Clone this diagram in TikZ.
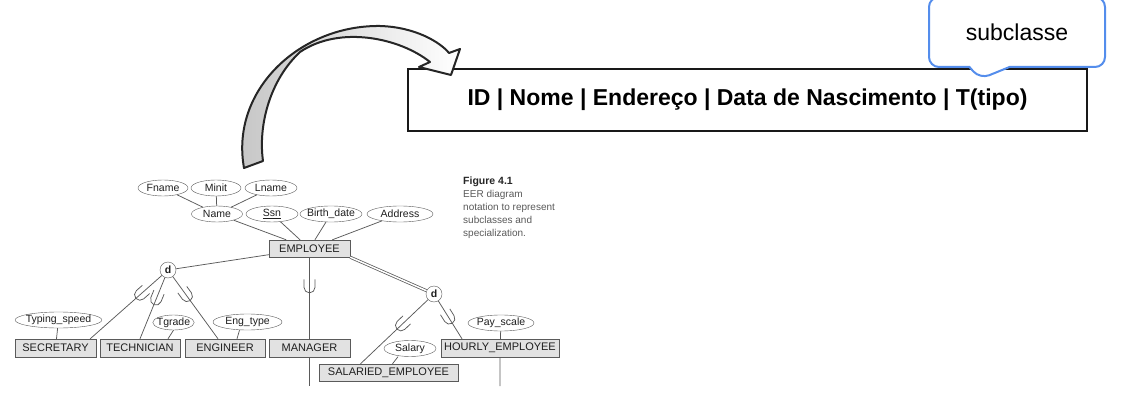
\documentclass[tikz,border=0pt]{standalone}
\usepackage{fontspec}
\setmainfont{Liberation Sans}
\usetikzlibrary{shapes.geometric,shapes.callouts,calc}
\definecolor{calloutblue}{RGB}{84,141,236}
\definecolor{erline}{RGB}{90,90,90}
\definecolor{erfill}{RGB}{226,226,226}
\definecolor{arrowgray}{RGB}{196,196,196}
\newcommand{\cupmark}[3]{%
  \draw[link] let \p1=($(#1)-(#2)$), \n1={atan2(\y1,\x1)} in
    ($(#1)!#3!(#2)$) ++(\n1+90:5.5pt) ++(\n1:8pt) -- ++(\n1+180:8pt)
    arc[start angle=\n1+90, end angle=\n1+270, radius=5.5pt] -- ++(\n1:8pt);}
\begin{document}
\begin{tikzpicture}[x=1pt,y=1pt,
  ent/.style={draw=erline,fill=erfill,minimum height=17,inner sep=1,font=\fontsize{11}{13}\selectfont,text=black!88},
  attr/.style={ellipse,draw=erline,fill=white,minimum height=16,inner xsep=-2,inner ysep=0,font=\fontsize{10.5}{12}\selectfont,text=black!88},
  dnode/.style={circle,draw=erline,fill=white,minimum size=16,inner sep=0,font=\bfseries\fontsize{10.5}{12}\selectfont,text=black!88},
  link/.style={draw=erline,line width=0.75pt}]
\useasboundingbox (0,-401) rectangle (1124,0);
\node[attr,minimum width=50] (fname) at (163,-188) {Fname};
\node[attr,minimum width=50] (minit) at (216,-188) {Minit};
\node[attr,minimum width=52] (lname) at (271,-188) {Lname};
\node[attr,minimum width=51] (name) at (217,-214) {Name};
\node[attr,minimum width=52] (ssn) at (272,-214) {\underline{Ssn}};
\node[attr,minimum width=62] (bdate) at (331,-214) {Birth\_date};
\node[attr,minimum width=66] (address) at (400,-214) {Address};
\node[ent,minimum width=81] (employee) at (309.5,-248.5) {EMPLOYEE};
\node[dnode] (d1) at (168,-270) {d};
\node[dnode] (d2) at (434,-294) {d};
\node[ent,minimum width=81,minimum height=18] (secretary) at (55.5,-348) {SECRETARY};
\node[ent,minimum width=80,minimum height=18] (technician) at (140,-348) {TECHNICIAN};
\node[ent,minimum width=80,minimum height=18] (engineer) at (225,-348) {ENGINEER};
\node[ent,minimum width=81,minimum height=18] (manager) at (309.5,-348) {MANAGER};
\node[ent,minimum width=118,minimum height=18] (hourly) at (500,-348) {HOURLY\_EMPLOYEE};
\node[ent,minimum width=139] (salaried) at (388.5,-372.5) {SALARIED\_EMPLOYEE};
\node[attr,minimum width=83] (typing) at (58.5,-320) {Typing\_speed};
\node[attr,minimum width=41,minimum height=15] (tgrade) at (173.5,-322.5) {Tgrade};
\node[attr,minimum width=69] (engtype) at (247.5,-322) {Eng\_type};
\node[attr,minimum width=52] (salary) at (410,-348.5) {Salary};
\node[attr,minimum width=66] (payscale) at (501,-323) {Pay\_scale};
\node[anchor=north west,align=left,inner sep=0,font=\fontsize{10}{12.8}\selectfont,text=black!65] (caption) at (463,-177)
  {{\bfseries\fontsize{10.5}{12.8}\selectfont\color{black!85}Figure 4.1}\\EER diagram\\notation to represent\\subclasses and\\specialization.};
\coordinate (sec-in) at ([xshift=-6]secretary.north east);
\coordinate (eng-in) at ([xshift=-7]engineer.north);
\coordinate (sal-in) at ([xshift=-28]salaried.north);
\coordinate (hour-in) at ([xshift=-38]hourly.north);
\coordinate (mgr-end) at (309.5,-386);
\coordinate (hour-end) at (500,-386);
\draw[link] (fname) -- (name) (minit) -- (name) (lname) -- (name);
\draw[link] (name) -- (employee) (ssn) -- (employee) (bdate) -- (employee) (address) -- (employee);
\draw[link] (employee) -- (d1);
\draw[link,double=white,double distance=1.5pt] (employee.south east) -- (d2);
\draw[link] (d1) -- (sec-in) (d1) -- (technician.north) (d1) -- (eng-in);
\draw[link] (employee) -- (manager) (manager) -- (mgr-end);
\draw[link] (d2) -- (sal-in) (d2) -- (hour-in) (hourly) -- (hour-end);
\draw[link] (typing) -- (secretary) (payscale) -- (hourly);
\draw[link] (tgrade.south) -- ([xshift=28]technician.north);
\draw[link] ([xshift=-8]engtype.south) -- ([xshift=12]engineer.north);
\draw[link] ([xshift=-12]salary.south) -- ([xshift=4]salaried.north);
\cupmark{d1}{sec-in}{.36}
\cupmark{d1}{technician.north}{.43}
\cupmark{d1}{eng-in}{.38}
\cupmark{employee.south}{manager.north}{.37}
\cupmark{d2}{sal-in}{.45}
\cupmark{d2}{hour-in}{.55}
\node[draw=black!90,line width=2.5pt,minimum width=679,minimum height=62,inner sep=0,font=\fontsize{23}{27}\selectfont\bfseries] (record) at (747.5,-100) {ID | Nome | Endereço | Data de Nascimento | T(tipo)};
\node[rectangle callout,draw=calloutblue,line width=2pt,fill=white,rounded corners=10pt,minimum width=176,minimum height=70,
  callout absolute pointer={(980,-79)},callout pointer width=40pt,font=\fontsize{23}{27}\selectfont] (subclass) at (1017,-32) {subclasse};
\draw[line width=2pt,draw=black!85,left color=arrowgray,right color=white,line join=round]
  (244,-168) .. controls (230,-90) and (300,-25) .. (380,-26)
  .. controls (415,-27) and (440,-42) .. (449,-53)
  -- (460,-49) -- (451,-75) -- (419,-67) -- (430,-62)
  .. controls (400,-38) and (340,-25) .. (300,-52)
  .. controls (270,-80) and (258,-125) .. (263,-161) -- cycle;
\end{tikzpicture}
\end{document}
